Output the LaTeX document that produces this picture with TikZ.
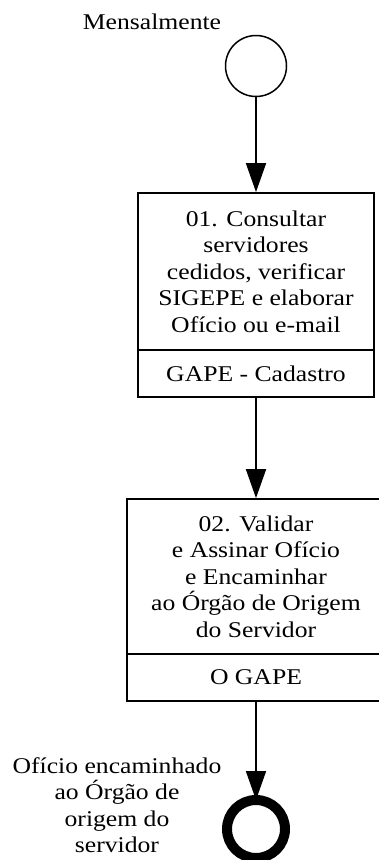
\documentclass[tikz,border=0pt]{standalone}
\usepackage{fontspec}
\setmainfont{Liberation Serif}[FakeStretch=1.14]
\usetikzlibrary{arrows.meta}

\begin{document}
\begin{tikzpicture}[x=1pt, y=-1pt, font=\fontsize{22.5}{26.5}\selectfont,
  act/.style={rectangle, draw, line width=1.8pt, align=center, inner sep=0pt},
  flow/.style={line width=1.8pt, -{Triangle[length=29pt, width=20pt]}},
  startev/.style={circle, draw, line width=1.5pt, minimum size=61pt, inner sep=0pt},
  endev/.style={circle, draw, line width=10pt, minimum size=58pt, inner sep=0pt, outer sep=0pt}]
\useasboundingbox (0,0) rectangle (379,860);
\clip (0,0) rectangle (379,860);

% Start event
\node[startev] (start) at (256,66) {};
\node[anchor=base] (startlbl) at (152,29) {Mensalmente};

% Task 01
\node[act, minimum width=236pt, minimum height=157pt] (task1) at (256,271.5) {01. Consultar\\servidores\\cedidos, verificar\\SIGEPE e elaborar\\Ofício ou e-mail};
\node[act, minimum width=236pt, minimum height=47pt] (role1) at (256,373.5) {GAPE - Cadastro};

% Task 02
\node[act, minimum width=258pt, minimum height=155pt] (task2) at (256,576.5) {02. Validar\\e Assinar Ofício\\e Encaminhar\\ao Órgão de Origem\\do Servidor};
\node[act, minimum width=258pt, minimum height=47pt] (role2) at (256,677.5) {O GAPE};

% End event
\node[endev] (stop) at (256,829) {};
\node[align=center] (stoplbl) at (117,805) {Ofício encaminhado\\ao Órgão de\\origem do\\servidor};

\draw[flow] (start) -- (task1);
\draw[flow] (role1) -- (task2);
\draw[flow] (role2) -- (stop);
\end{tikzpicture}
\end{document}
